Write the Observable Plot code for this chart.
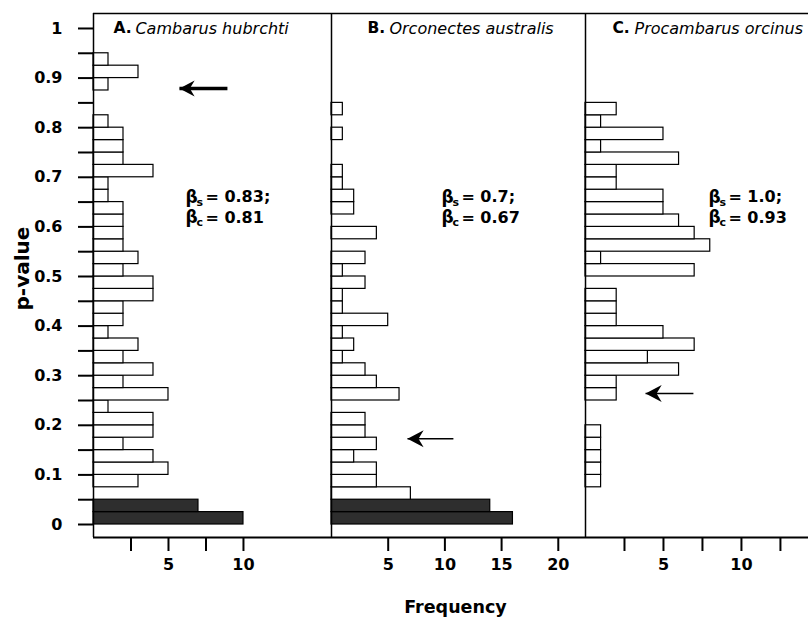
<!DOCTYPE html>
<html>
<head>
<meta charset="utf-8">
<script src="https://cdn.jsdelivr.net/npm/d3@7"></script>
<script src="https://cdn.jsdelivr.net/npm/@observablehq/plot@0.6"></script>
<style>
  html, body { margin: 0; padding: 0; background: white; }
  #chart { position: relative; width: 808px; height: 620px; background: white; overflow: hidden; }
  #chart svg { position: absolute; top: 0; overflow: visible; }
</style>
</head>
<body>
<div id="chart"></div>
<script>
// ---- data ----
// p-value bin edges (bins of 0.025)
const binEdges = [0, 0.025, 0.05, 0.075, 0.1, 0.125, 0.15, 0.175, 0.2, 0.225, 0.25,
  0.275, 0.3, 0.325, 0.35, 0.375, 0.4, 0.425, 0.45, 0.475, 0.5, 0.525, 0.55, 0.575,
  0.6, 0.625, 0.65, 0.675, 0.7, 0.725, 0.75, 0.775, 0.8, 0.825, 0.85, 0.875, 0.9,
  0.925, 0.95, 0.975, 1];
// frequencies per bin, from p = 0 upward
const countsA = [10, 7, 0, 3, 5, 4, 2, 4, 4, 1, 5, 2, 4, 2, 3, 1, 2, 2, 4, 4,
  2, 3, 2, 2, 2, 2, 1, 1, 4, 2, 2, 2, 1, 0, 0, 1, 3, 1, 0, 0];
const countsB = [16, 14, 7, 4, 4, 2, 4, 3, 3, 0, 6, 4, 3, 1, 2, 1, 5, 1, 1, 3,
  1, 3, 0, 4, 0, 2, 2, 1, 1, 0, 0, 1, 0, 1, 0, 0, 0, 0, 0, 0];
const countsC = [0, 0, 0, 1, 1, 1, 1, 1, 0, 0, 2, 2, 6, 4, 7, 5, 2, 2, 2, 0,
  7, 1, 8, 7, 6, 5, 5, 2, 2, 6, 1, 5, 1, 2, 0, 0, 0, 0, 0, 0];
const sigLevel = 0.05;

const panelLetters = ["A.", "B.", "C."];
const speciesNames = ["Cambarus hubrchti", "Orconectes australis", "Procambarus orcinus"];
const betaS = ["0.83;", "0.7;", "1.0;"];
const betaC = ["0.81", "0.67", "0.93"];
const arrowP = [0.879, 0.173, 0.264];   // p-value the arrow points at

const yTicks = [0, 0.05, 0.1, 0.15, 0.2, 0.25, 0.3, 0.35, 0.4, 0.45, 0.5,
  0.55, 0.6, 0.65, 0.7, 0.75, 0.8, 0.85, 0.9, 0.95, 1];
const yTickLabels = ["0", "", "0.1", "", "0.2", "", "0.3", "", "0.4", "", "0.5",
  "", "0.6", "", "0.7", "", "0.8", "", "0.9", "", "1"];
const xTicksA = [2.5, 5, 7.5, 10];
const xLabelsA = ["", "5", "", "10"];
const xTicksB = [5, 10, 15, 20];
const xLabelsB = ["5", "10", "15", "20"];
const xTicksC = [2.5, 5, 7.5, 10, 12.5];
const xLabelsC = ["", "5", "", "10", ""];

// ---- layout ----
const yMin = -0.0262, yMax = 1.0302;
const H = 620, MT = 13, MB = 83;
const FONT = "DejaVu Sans";

const arrowHead = {
  draw(context, size) {
    const r = Math.sqrt(size / Math.PI);
    context.moveTo(0, 0);
    context.lineTo(1.9 * r, -r);
    context.lineTo(1.3 * r, 0);
    context.lineTo(1.9 * r, r);
    context.closePath();
  }
};

function panel(cfg) {
  const rows = cfg.counts.map((n, i) => ({lo: binEdges[i], hi: binEdges[i + 1], n}))
    .filter(d => d.n > 0);
  const xLab = new Map(cfg.xTicks.map((t, i) => [t, cfg.xLabels[i]]));
  const yLab = new Map(yTicks.map((t, i) => [t, yTickLabels[i]]));
  const i = cfg.index;
  const arrow = [{p: arrowP[i], tip: cfg.arrowTip, tail: cfg.arrowTail}];
  const marks = [
    Plot.rectX(rows, {
      x1: 0, x2: "n", y1: "lo", y2: "hi",
      fill: d => d.hi <= sigLevel ? "#2e2e2e" : "white",
      stroke: "black", strokeWidth: 1.2
    }),
    Plot.ruleX([0], {stroke: "black", strokeWidth: 1.5}),
    Plot.ruleY([yMax], {stroke: "black", strokeWidth: 1.5}),
    Plot.ruleY([yMin], {stroke: "black", strokeWidth: 1.8}),
    Plot.axisX(cfg.xTicks, {
      tickSize: 14, tickPadding: 7, tickFormat: d => xLab.get(d),
      fontSize: 16, fontWeight: "bold", strokeWidth: 2, label: null
    }),
    // title
    Plot.text([panelLetters[i]], {
      x: cfg.titleX, y: 1, text: d => d, textAnchor: "start",
      fontSize: 15.5, fontWeight: "bold"
    }),
    Plot.text([speciesNames[i]], {
      x: cfg.titleX, y: 1, text: d => d, textAnchor: "start", dx: 22,
      fontSize: 16, fontStyle: "italic"
    }),
    // beta annotations
    Plot.text(["β", "β"], {
      x: cfg.betaX, y: [0.66, 0.618], text: d => d, textAnchor: "start",
      fontSize: 17, fontWeight: "bold"
    }),
    Plot.text(["s", "c"], {
      x: cfg.betaX, y: [0.66, 0.618], text: d => d, textAnchor: "start",
      dx: 11, dy: 5, fontSize: 11, fontWeight: "bold"
    }),
    Plot.text(["= " + betaS[i], "= " + betaC[i]], {
      x: cfg.betaX, y: [0.66, 0.618], text: d => d, textAnchor: "start",
      dx: 20, fontSize: 16, fontWeight: "bold"
    }),
    // arrow
    Plot.link(arrow, {x1: "tip", x2: "tail", y1: "p", y2: "p", stroke: "black", strokeWidth: cfg.arrowWidth}),
    Plot.dot(arrow, {x: "tip", y: "p", symbol: arrowHead, r: cfg.headR, fill: "black", stroke: "none"})
  ];
  if (i === 0) {
    marks.push(Plot.axisY(yTicks, {
      tickSize: 15, tickPadding: 16, tickFormat: d => yLab.get(d),
      fontSize: 16, fontWeight: "bold", strokeWidth: 2, label: null
    }));
    marks.push(Plot.text(["p-value"], {
      frameAnchor: "left", y: 0.516, text: d => d, rotate: -90, dx: -71,
      textAnchor: "middle", lineAnchor: "middle",
      fontSize: 20, fontWeight: "bold"
    }));
  }
  if (i === 1) {
    marks.push(Plot.text(["Frequency"], {
      frameAnchor: "bottom", text: d => d, dx: -3, dy: 70,
      textAnchor: "middle", lineAnchor: "middle",
      fontSize: 17.5, fontWeight: "bold"
    }));
  }
  const svg = Plot.plot({
    width: cfg.width, height: H,
    marginLeft: cfg.marginLeft, marginRight: 0, marginTop: MT, marginBottom: MB,
    x: {domain: [0, cfg.xMax], label: null},
    y: {domain: [yMin, yMax], label: null, axis: i === 0 ? undefined : null},
    style: {fontFamily: FONT, background: "transparent", color: "black", overflow: "visible"},
    marks
  });
  svg.style.left = cfg.left + "px";
  return svg;
}

const chart = document.getElementById("chart");
chart.appendChild(panel({
  index: 0, counts: countsA, left: 0, width: 331, marginLeft: 93, xMax: 15.87,
  xTicks: xTicksA, xLabels: xLabelsA, titleX: 1.33, betaX: 6.13,
  arrowTip: 5.73, arrowTail: 8.93, arrowWidth: 3.5, headR: 8
}));
chart.appendChild(panel({
  index: 1, counts: countsB, left: 331, width: 254, marginLeft: 0, xMax: 22.4,
  xTicks: xTicksB, xLabels: xLabelsB, titleX: 3.17, betaX: 9.69,
  arrowTip: 6.7, arrowTail: 10.75, arrowWidth: 1.6, headR: 8.5
}));
chart.appendChild(panel({
  index: 2, counts: countsC, left: 585, width: 223, marginLeft: 0, xMax: 14.3,
  xTicks: xTicksC, xLabels: xLabelsC, titleX: 1.73, betaX: 7.88,
  arrowTip: 3.85, arrowTail: 6.92, arrowWidth: 1.6, headR: 8.5
}));
</script>
</body>
</html>
